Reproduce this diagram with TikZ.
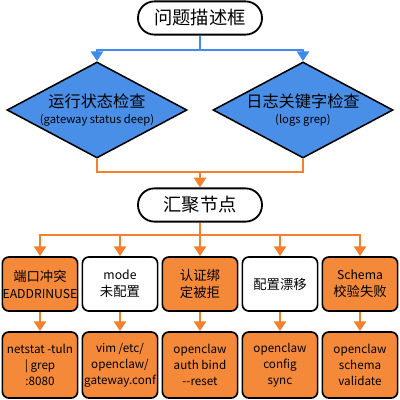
\documentclass[tikz,border=0pt]{standalone}
\usepackage{fontspec}
\setmainfont{Noto Sans CJK SC}
\usetikzlibrary{shapes.geometric}
\usetikzlibrary{arrows.meta}
\usetikzlibrary{positioning}
\definecolor{chkblue}{HTML}{4A8FE7}
\definecolor{chkline}{HTML}{3D8BEF}
\definecolor{fixorange}{HTML}{F5893A}
\definecolor{fixline}{HTML}{F47F2C}
\newcommand{\lat}[1]{{\fontsize{8.7}{12}\selectfont #1}}
\tikzset{fcp/.style={
  x=0.25mm,
  y=-0.25mm
}}
\tikzset{term/.style={
  draw,
  line width=1.3pt,
  fill=white,
  rounded corners=4.1mm,
  minimum width=31mm,
  minimum height=8.3mm,
  font=\fontsize{13}{15}\selectfont
}}
\tikzset{chk/.style={
  draw,
  line width=1.1pt,
  fill=chkblue,
  shape=diamond,
  minimum width=45mm,
  minimum height=24mm
}}
\tikzset{chktxt/.style={align=center,font=\fontsize{11.5}{12.8}\selectfont}}
\tikzset{cause/.style={
  draw,
  line width=1.2pt,
  rounded corners=1.6mm,
  minimum width=18.8mm,
  minimum height=13.5mm,
  align=center,
  inner sep=0pt,
  font=\fontsize{9.5}{12}\selectfont
}}
\tikzset{hot/.style={cause,fill=fixorange}}
\tikzset{cold/.style={cause,fill=white}}
\tikzset{fix/.style={hot,minimum height=16.5mm,font=\fontsize{8.3}{11.4}\selectfont}}
\tikzset{blink/.style={chkline,line width=2pt,-{Triangle[width=8.5pt,length=7pt]}}}
\tikzset{olink/.style={fixline,line width=2pt,-{Triangle[width=8.5pt,length=7pt]}}}
\tikzset{oline/.style={fixline,line width=2pt}}

\begin{document}
\begin{tikzpicture}[fcp]
    \useasboundingbox[fill=white] (0,0) rectangle (400,400);

    % Start and checks
    \node[term] (ask) at (200,18) {问题描述框};
    \node[chk] (rt) at (97,110) {};
    \node[chktxt] at (rt.center) {运行状态检查\\[-1pt]{\fontsize{8}{10}\selectfont (gateway status deep)}};
    \node[chk] (lg) at (303,110) {};
    \node[chktxt] at (lg.center) {日志关键字检查\\[-1pt]{\fontsize{8}{10}\selectfont (logs grep)}};
    \coordinate (asksplit) at (200,50);
    \draw[blink] (ask.south) -- (asksplit) -| (rt.north);
    \draw[blink] (asksplit) -| (lg.north);

    % Merge
    \node[term] (hub) at (200,205) {汇聚节点};
    \coordinate (hubjoin) at (200,172);
    \draw[oline] (rt.south) |- (hubjoin);
    \draw[oline] (lg.south) |- (hubjoin);
    \draw[olink] (hubjoin) -- (hub.north);

    % Causes
    \node[hot] (c1) at (40,284) {端口冲突\\\lat{EADDRINUSE}};
    \node[cold] (c2) at (120,284) {\lat{mode}\\未配置};
    \node[hot] (c3) at (200,284) {认证绑\\定被拒};
    \node[cold] (c4) at (280,284) {配置漂移};
    \node[hot] (c5) at (360,284) {\lat{Schema}\\校验失败};

    % Fixes
    \node[fix] (f1) at (40,365) {netstat -tuln\\| grep\\:8080};
    \node[fix] (f2) at (120,365) {vim /etc/\\openclaw/\\gateway.conf};
    \node[fix] (f3) at (200,365) {openclaw\\auth bind\\-{}-reset};
    \node[fix] (f4) at (280,365) {openclaw\\config\\sync};
    \node[fix] (f5) at (360,365) {openclaw\\schema\\validate};

    \coordinate (hubsplit) at (200,235);
    \draw[oline] (hub.south) -- (hubsplit);
    \foreach \i in {1,...,5} {
      \draw[olink] (hubsplit) -| (c\i.north);
      \draw[olink] (c\i.south) -- (f\i.north);
    }

  \end{tikzpicture}
\end{document}
